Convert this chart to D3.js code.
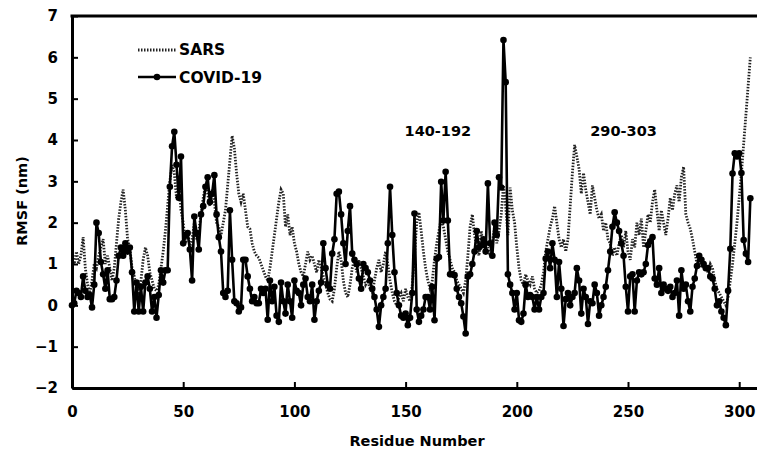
<!DOCTYPE html>
<html>
<head>
<meta charset="utf-8">
<script src="https://cdn.jsdelivr.net/npm/d3@7"></script>
<style>
  body { margin: 0; background: #fff; }
  text { font-family: "DejaVu Sans", sans-serif; font-weight: bold; fill: #000; }
</style>
</head>
<body>
<div id="chart"></div>
<script>
const width = 757;
const height = 449;

// RMSF values per residue (index = residue number 0..305)
const covid = [
  0.0, 0.05, 0.35, 0.3, 0.2, 0.7, 0.35, 0.2, 0.25, -0.05,
  0.5, 2.0, 1.75, 1.05, 0.75, 0.4, 0.85, 0.15, 0.15, 0.2,
  0.6, 1.2, 1.4, 1.2, 1.5, 1.3, 1.4, 0.8, -0.15, 0.55,
  -0.15, 0.45, -0.15, 0.55, 0.7, 0.4, -0.15, 0.2, -0.3, 0.25,
  0.85, 0.55, 0.85, 0.85, 2.87, 3.85, 4.2, 3.4, 2.6, 3.6,
  1.5, 1.7, 1.75, 1.35, 0.6, 2.15, 1.75, 1.35, 2.2, 2.4,
  2.87, 3.1, 2.5, 2.7, 3.15, 2.2, 1.65, 1.3, 0.3, 0.2,
  0.35, 2.3, 1.1, 0.1, 0.05, -0.15, -0.05, 1.1, 1.1, 0.7,
  0.4, 0.1, 0.2, 0.05, 0.05, 0.4, 0.3, 0.4, -0.35, 0.6,
  0.1, 0.45, -0.25, -0.4, 0.55, 0.1, -0.2, 0.5, 0.1, -0.3,
  0.6, 0.35, 0.3, 0.0, 0.5, 0.65, 0.2, 0.1, 0.5, -0.35,
  0.1, 0.35, 0.55, 1.5, 0.9, 0.5, 0.4, 1.25, 1.6, 2.7,
  2.75, 2.2, 1.5, 1.0, 1.8, 2.4, 1.25, 1.1, 1.0, 0.65,
  0.4, 1.0, 0.9, 0.8, 0.6, 0.4, 0.2, -0.1, -0.52, 0.0,
  0.2, 0.4, 1.5, 2.87, 1.7, 0.8, 0.3, 0.0, -0.25, -0.3,
  -0.2, -0.48, -0.3, 0.3, 2.22, -0.1, -0.4, -0.25, -0.1, 0.2,
  0.2, -0.1, 0.45, -0.36, 1.13, 1.17, 2.99, 2.05, 3.23, 2.05,
  0.75, 0.75, 0.73, 0.4, 0.2, 0.05, -0.27, -0.68, 0.7, 0.75,
  1.0, 1.3, 1.8, 1.4, 1.45, 1.6, 1.3, 2.95, 1.5, 1.2,
  2.0, 1.7, 3.1, 2.85, 6.42, 5.4, 0.75, 0.5, 0.3, -0.1,
  0.3, -0.36, -0.4, -0.2, 0.5, 0.2, 0.25, 0.2, -0.1, 0.2,
  -0.1, 0.2, 0.3, 1.13, 1.3, 0.9, 1.5, 1.1, 0.2, 1.05,
  0.4, -0.5, 0.15, 0.3, 0.0, 0.2, 0.3, 0.9, 0.6, -0.2,
  0.4, 0.2, -0.45, 0.1, 0.05, 0.5, 0.3, -0.25, 0.0, 0.2,
  0.45, 0.85, 1.3, 1.9, 2.25, 2.0, 1.8, 1.5, 1.2, 0.45,
  -0.15, 0.7, 0.75, -0.15, 0.6, 0.8, 0.75, 0.8, 1.0, 1.46,
  1.55, 1.65, 0.65, 0.5, 0.9, 0.3, 0.5, 0.4, 0.35, 0.45,
  0.2, 0.3, 0.6, -0.25, 0.85, 0.4, 0.5, 0.1, -0.15, 0.45,
  0.65, 0.95, 1.2, 1.1, 1.0, 0.9, 0.9, 0.7, 0.65, 0.4,
  0.0, 0.1, -0.15, -0.3, -0.48, 0.35, 1.37, 3.19, 3.68, 3.6,
  3.68, 3.2, 1.58, 1.25, 1.05, 2.59
];

const sars = [
  1.1, 1.0, 1.3, 1.0, 1.2, 1.65, 0.9, 0.5, 0.3, 0.6,
  1.0, 0.9, 1.2, 1.4, 1.6, 1.0, 1.2, 0.9, 0.6, 0.9,
  1.5, 2.1, 2.5, 2.8, 2.3, 1.6, 1.4, 0.9, 0.7, 0.4,
  0.3, 0.6, 1.1, 1.4, 1.2, 0.8, 0.6, 0.4, 0.35, 0.5,
  0.9, 1.3, 1.8, 2.4, 3.0, 3.4, 3.2, 2.6, 3.0, 2.3,
  2.0, 1.5, 1.8, 1.4, 1.6, 2.0, 1.6, 1.8, 2.2, 2.6,
  2.9, 2.7, 2.4, 2.8, 2.5, 2.0, 1.9, 1.7, 2.0, 2.3,
  2.9, 3.5, 4.1, 3.8, 3.2, 2.7, 2.5, 2.7, 2.3, 1.9,
  1.85, 1.5, 1.3, 1.2, 1.15, 1.0, 0.85, 0.7, 0.6, 0.9,
  1.3, 1.7, 2.1, 2.5, 2.8, 2.7, 1.9, 2.2, 1.7, 1.9,
  1.5, 1.3, 1.0, 0.8, 0.7, 1.0, 1.3, 1.1, 1.2, 1.0,
  0.8, 1.1, 0.9, 0.7, 0.5, 0.3, 0.15, 0.1, 0.4, 0.9,
  1.3, 1.1, 0.6, 0.3, 0.2, 0.5, 0.9, 1.1, 0.8, 1.1,
  0.9, 0.7, 0.5, 0.6, 0.4, 0.3, 0.6, 0.9, 1.1, 0.8,
  1.0, 1.3, 1.0, 0.6, 0.3, 0.1, 0.0, 0.2, 0.3, 0.1,
  0.4, 0.2, 0.1, 0.5, 1.2, 2.0, 2.25, 1.8, 1.3, 0.9,
  0.6, 0.4, 0.6, 1.1, 1.5, 1.8, 2.1, 1.9, 1.6, 1.3,
  1.1, 0.9, 0.8, 0.6, 0.5, 0.4, 0.3, 0.6, 1.2, 1.9,
  2.2, 1.7, 1.4, 1.2, 1.8, 1.4, 1.6, 1.4, 1.2, 1.5,
  1.9, 1.5, 1.8, 2.2, 2.9, 2.4, 1.7, 2.85, 2.3, 2.0,
  1.4, 0.9, 0.6, 0.5, 0.75, 0.6, 0.5, 0.7, 0.4, 0.3,
  0.35, 0.5, 0.8, 1.3, 1.6, 1.9, 2.1, 2.4, 2.0, 1.6,
  1.4, 1.6, 1.3, 1.6, 2.4, 3.2, 3.88, 3.6, 3.3, 2.7,
  3.2, 2.8, 2.5, 2.2, 2.9, 2.6, 2.3, 2.1, 2.2, 1.8,
  2.0, 1.6, 1.5, 1.2, 1.4, 1.2, 1.5, 1.7, 1.4, 1.8,
  1.3, 1.1, 1.6, 1.4, 2.0, 1.7, 2.1, 1.4, 1.8, 2.2,
  2.0, 2.5, 2.8, 2.3, 1.8, 2.3, 2.0, 1.7, 2.1, 2.6,
  2.3, 2.7, 2.9, 2.5, 3.1, 3.35, 2.2, 2.0, 1.85, 1.6,
  1.3, 1.0, 1.1, 0.9, 1.0, 0.9, 0.8, 1.0, 0.9, 0.6,
  0.4, 0.3, 0.2, 0.1, 0.0, 0.2, 0.6, 1.0, 1.5, 2.0,
  2.6, 3.2, 3.9, 4.6, 5.3, 6.0
];

const xTicks = [0, 50, 100, 150, 200, 250, 300];
const yTicks = [-2, -1, 0, 1, 2, 3, 4, 5, 6, 7];
const regionLabels = [
  { text: '140-192', x: 164.5, y: 4.1 },
  { text: '290-303', x: 248, y: 4.1 }
];

const svg = d3.select('#chart')
  .append('svg')
  .attr('width', width)
  .attr('height', height);

const x = d3.scaleLinear().domain([0, 308]).range([72, 757]);
const y = d3.scaleLinear().domain([-2, 7]).range([388, 16]);

const line = d3.line()
  .x((d, i) => x(i))
  .y(d => y(d));

// SARS: dotted line
svg.append('path')
  .datum(sars)
  .attr('fill', 'none')
  .attr('stroke', '#222')
  .attr('stroke-width', 2.8)
  .attr('stroke-dasharray', '1.5,1.5')
  .attr('d', line);

// COVID-19: solid line with markers
svg.append('path')
  .datum(covid)
  .attr('fill', 'none')
  .attr('stroke', '#000')
  .attr('stroke-width', 2.6)
  .attr('stroke-linejoin', 'round')
  .attr('d', line);

svg.selectAll('.pt')
  .data(covid)
  .enter()
  .append('circle')
  .attr('class', 'pt')
  .attr('cx', (d, i) => x(i))
  .attr('cy', d => y(d))
  .attr('r', 3.3)
  .attr('fill', '#000');

// axes
const xAxis = svg.append('g')
  .attr('transform', `translate(0, ${y(-2)})`)
  .call(d3.axisBottom(x).tickValues(xTicks).tickSizeInner(-6).tickSizeOuter(0).tickPadding(18));

const yAxis = svg.append('g')
  .attr('transform', `translate(${x(0)}, 0)`)
  .call(d3.axisLeft(y).tickValues(yTicks).tickSizeInner(-6).tickSizeOuter(0).tickPadding(14));

[xAxis, yAxis].forEach(g => {
  g.select('.domain').attr('stroke', '#000').attr('stroke-width', 3);
  g.selectAll('.tick line').attr('stroke', '#000').attr('stroke-width', 2);
  g.selectAll('.tick text')
    .attr('fill', '#000')
    .style('font-family', '"DejaVu Sans", sans-serif')
    .style('font-weight', 'bold')
    .style('font-size', '15px');
});

// top border
svg.append('line')
  .attr('x1', x(0) - 1.5)
  .attr('x2', width)
  .attr('y1', y(7))
  .attr('y2', y(7))
  .attr('stroke', '#000')
  .attr('stroke-width', 3);

// axis titles
svg.append('text')
  .attr('x', 417)
  .attr('y', 446)
  .attr('text-anchor', 'middle')
  .style('font-size', '14.5px')
  .text('Residue Number');

svg.append('text')
  .attr('transform', 'translate(27, 201) rotate(-90)')
  .attr('text-anchor', 'middle')
  .style('font-size', '14.5px')
  .text('RMSF (nm)');

// region labels
svg.selectAll('.region')
  .data(regionLabels)
  .enter()
  .append('text')
  .attr('class', 'region')
  .attr('x', d => x(d.x))
  .attr('y', d => y(d.y))
  .attr('text-anchor', 'middle')
  .style('font-size', '14.5px')
  .text(d => d.text);

// legend
const legend = svg.append('g');

legend.append('line')
  .attr('x1', 138).attr('x2', 177)
  .attr('y1', 50).attr('y2', 50)
  .attr('stroke', '#222')
  .attr('stroke-width', 2.8)
  .attr('stroke-dasharray', '1.5,1.5');

legend.append('text')
  .attr('x', 179).attr('y', 55)
  .style('font-size', '15.5px')
  .text('SARS');

legend.append('line')
  .attr('x1', 138).attr('x2', 176)
  .attr('y1', 77).attr('y2', 77)
  .attr('stroke', '#000')
  .attr('stroke-width', 2.6);

legend.append('circle')
  .attr('cx', 157).attr('cy', 77).attr('r', 3.3)
  .attr('fill', '#000');

legend.append('text')
  .attr('x', 179).attr('y', 83)
  .style('font-size', '15.5px')
  .text('COVID-19');
</script>
</body>
</html>
